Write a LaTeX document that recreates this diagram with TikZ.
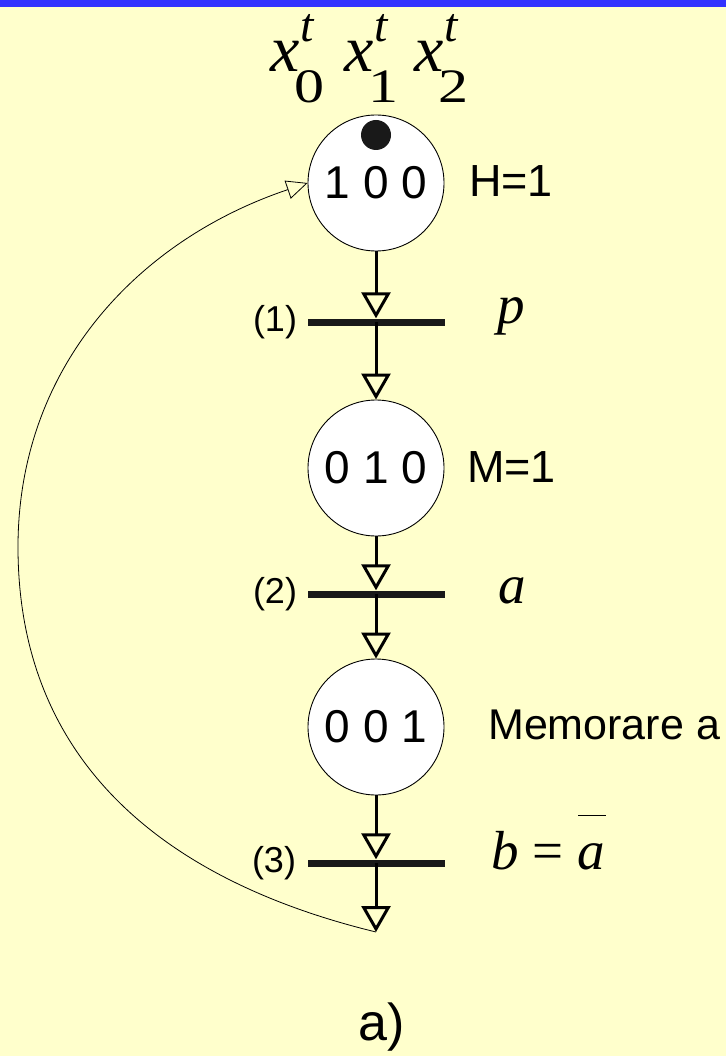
\documentclass[tikz,border=0pt]{standalone}
\usepackage{graphicx}
\usepackage{fontspec}
\setmainfont{Liberation Sans}
\newfontfamily\tms{Liberation Serif}
\usetikzlibrary{arrows.meta}
\definecolor{bg}{HTML}{FFFFCC}
\definecolor{topbar}{HTML}{3333FF}
\newcommand{\xsym}[1]{{\fontsize{66}{66}\selectfont\tms\itshape x}\kern-5pt\rlap{\kern6pt\raisebox{30pt}{\fontsize{48}{48}\selectfont\tms\itshape t}}\raisebox{-31pt}{\scalebox{1.25}[1]{\fontsize{48}{48}\selectfont\tms #1}}}
\begin{document}
\begin{tikzpicture}[x=1pt,y=-1pt,
  place/.style={circle, draw, fill=white, line width=0.9pt, minimum size=136pt, inner sep=0pt, font=\fontsize{46}{46}\selectfont},
  bar/.style={rectangle, fill=black!90, minimum width=137pt, minimum height=7pt, inner sep=0pt},
  token/.style={circle, fill=black!90, minimum size=30pt, inner sep=0pt},
  flow/.style={line width=3pt, -{Triangle[open, length=26pt, width=29pt]}},
  back/.style={line width=0.8pt, -{Triangle[open, length=21pt, width=19pt]}},
  sans/.style={inner sep=0pt, font=\fontsize{45}{45}\selectfont},
  tnum/.style={inner sep=0pt, font=\fontsize{36}{36}\selectfont},
  serif/.style={inner sep=0pt, font=\fontsize{55}{55}\selectfont\tms},
  head/.style={inner sep=0pt, anchor=base west}]
\useasboundingbox (0,0) rectangle (726,1056);
\fill[bg] (0,0) rectangle (726,1056);
\fill[topbar] (0,0) rectangle (726,7);
% variable heads
\node[head] (x0) at (270,72) {\xsym{0}};
\node[head] (x1) at (344,72) {\xsym{1}};
\node[head] (x2) at (414,72) {\xsym{2}};
% places
\node[place] (P1) at (376,183) {1 0 0};
\node[place] (P2) at (376,468) {0 1 0};
\node[place] (P3) at (376,727) {0 0 1};
\node[token] (tok) at (376,135) {};
% transitions
\node[bar] (T1) at (376,322) {};
\node[bar] (T2) at (376,594) {};
\node[bar] (T3) at (376,863) {};
\coordinate (E) at (376,932);
% arcs
\draw[flow] (P1) -- (T1);
\draw[flow] (T1.center) -- (P2);
\draw[flow] (P2) -- (T2);
\draw[flow] (T2.center) -- (P3);
\draw[flow] (P3) -- (T3);
\draw[flow] (T3.center) -- (E);
\draw[back] (E) .. controls (162,880) and (18,760) .. (18,547) .. controls (18,367) and (138,240) .. (P1.west);
% labels
\node[sans, anchor=west] (lH) at (469,181) {H=1};
\node[sans, anchor=west] (lM) at (467,467) {M=1};
\node[sans, anchor=west, font=\fontsize{43}{43}\selectfont] (lMem) at (488,725) {Memorare a};
\node[tnum] (n1) at (275,322) {(1)};
\node[tnum] (n2) at (275,594) {(2)};
\node[tnum] (n3) at (274,863) {(3)};
\node[serif, anchor=base] (lp) at (511,323) {\itshape p};
\node[serif, anchor=base] (la) at (512,603) {\itshape a};
\node[serif, anchor=base west] (lb) at (491,869) {{\itshape b} = \rlap{\kern1pt\raisebox{53pt}{\rule{28pt}{1.2pt}}}{\itshape a}};
\node[inner sep=0pt, anchor=base, font=\fontsize{52}{52}\selectfont] (cap) at (382,1040) {a)};
\end{tikzpicture}
\end{document}
